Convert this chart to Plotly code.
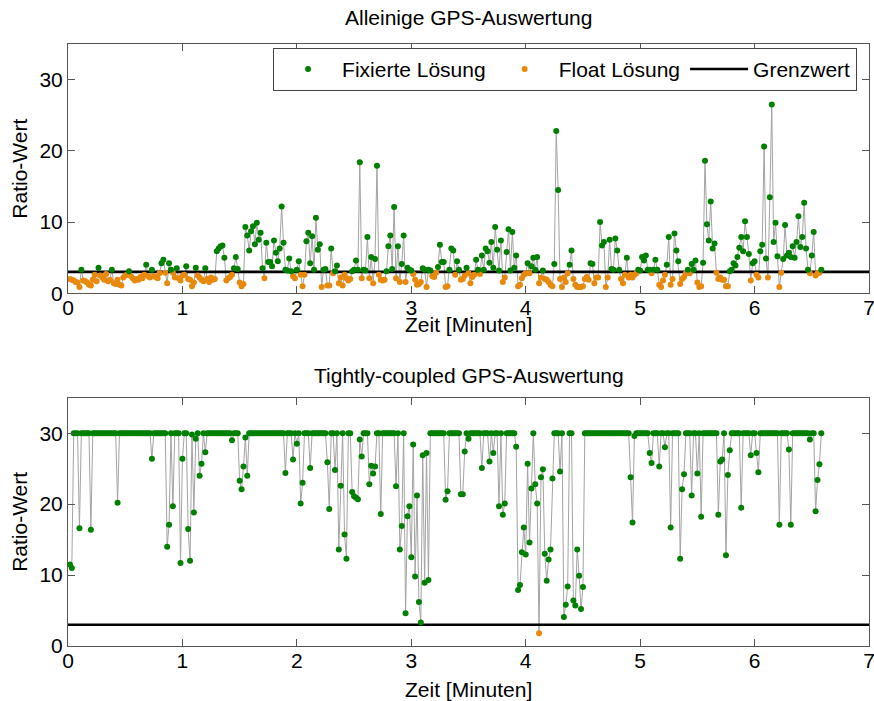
import plotly.graph_objects as go
from plotly.subplots import make_subplots

# ---------------- data ----------------
# Ratio values, one sample per second (t = 1 ... 395 s)
ratio_gps_only = [
    2.0, 1.9, 1.8, 1.6, 1.5, 0.9, 3.3, 1.8, 1.7, 1.5, 1.2, 1.1, 1.9, 2.6, 1.7, 3.6, 2.5, 2.2, 1.9, 2.7,
    1.7, 1.9, 3.3, 1.4, 1.3, 1.9, 1.2, 1.1, 2.2, 2.5, 2.6, 3.1, 2.4, 2.1, 1.8, 2.0, 1.9, 2.3, 2.1, 2.6,
    4.0, 2.4, 2.2, 3.3, 2.4, 2.3, 2.1, 2.8, 4.2, 4.7, 2.9, 1.4, 4.2, 3.3, 2.9, 2.2, 3.5, 2.1, 1.8, 2.5,
    2.6, 3.8, 2.0, 1.9, 1.0, 1.5, 3.6, 2.5, 2.2, 1.9, 1.7, 3.5, 2.0, 1.6, 2.2, 1.9, 2.0, 5.9, 6.3, 6.6,
    6.7, 5.0, 1.8, 2.1, 2.3, 2.6, 3.5, 5.1, 3.4, 1.5, 1.0, 1.3, 9.3, 8.1, 6.0, 8.7, 9.4, 6.9, 9.9, 7.5,
    8.5, 3.5, 2.1, 7.1, 4.4, 4.4, 3.8, 7.4, 5.7, 4.5, 6.3, 12.2, 7.1, 3.3, 3.2, 4.9, 3.1, 2.4, 2.1, 3.3,
    4.5, 2.6, 1.0, 2.6, 7.3, 8.5, 4.2, 8.0, 3.3, 10.6, 6.1, 6.9, 0.9, 3.3, 3.4, 1.1, 1.1, 6.3, 2.8, 3.1,
    3.9, 1.4, 2.2, 1.1, 2.6, 2.1, 1.8, 2.0, 3.1, 3.3, 4.6, 3.3, 18.4, 2.1, 3.3, 3.2, 7.9, 2.1, 5.1, 1.4,
    4.8, 17.9, 2.6, 1.9, 1.8, 1.9, 3.1, 6.6, 8.1, 3.4, 12.1, 2.1, 6.6, 1.6, 4.1, 8.1, 1.6, 3.6, 3.3, 3.2,
    2.7, 1.9, 1.2, 1.3, 1.6, 3.5, 3.3, 0.9, 3.3, 3.2, 2.4, 2.3, 2.9, 3.7, 6.8, 4.4, 4.4, 0.9, 1.0, 3.3,
    6.3, 6.0, 2.6, 4.5, 3.3, 1.9, 2.0, 2.5, 3.6, 2.8, 1.4, 2.3, 2.6, 4.7, 3.3, 2.7, 5.3, 3.3, 6.3, 5.9,
    4.3, 7.2, 3.6, 9.3, 6.1, 3.2, 7.4, 1.6, 2.2, 5.8, 9.0, 3.2, 8.6, 3.6, 5.3, 1.0, 1.2, 2.1, 2.6, 2.8,
    4.2, 2.8, 3.8, 5.0, 3.3, 5.1, 1.4, 2.2, 3.2, 2.0, 1.9, 1.6, 1.2, 1.0, 4.1, 22.8, 14.5, 2.0, 0.9, 2.2,
    1.6, 2.8, 4.0, 6.0, 2.0, 1.2, 0.9, 0.9, 0.9, 1.0, 2.0, 2.3, 1.9, 4.2, 4.1, 1.4, 2.2, 2.2, 10.0, 6.7,
    7.2, 0.9, 2.2, 7.5, 3.4, 3.3, 7.7, 6.0, 3.3, 2.0, 1.4, 2.6, 5.0, 2.2, 2.6, 2.2, 2.6, 2.8, 3.3, 3.2,
    5.1, 4.6, 5.3, 3.3, 3.3, 2.8, 3.3, 4.7, 3.3, 1.2, 0.9, 1.8, 2.6, 4.0, 7.9, 1.2, 2.0, 8.4, 6.0, 4.5,
    1.3, 2.0, 2.3, 2.8, 3.3, 2.8, 4.1, 3.3, 4.6, 1.5, 0.9, 1.0, 4.3, 18.6, 9.7, 7.4, 12.9, 6.3, 7.0, 2.9,
    2.0, 2.2, 1.9, 1.9, 1.0, 1.0, 3.1, 3.3, 4.2, 3.9, 5.1, 6.4, 7.9, 5.9, 10.1, 7.9, 5.5, 1.8, 4.2, 4.5,
    2.6, 2.2, 5.9, 6.8, 20.6, 4.9, 2.2, 13.5, 26.5, 7.2, 9.9, 5.2, 0.9, 2.9, 4.8, 9.6, 5.3, 5.7, 5.1, 6.6,
    5.0, 7.2, 10.8, 6.5, 7.9, 12.7, 6.3, 3.3, 2.8, 5.3, 8.6, 2.5, 2.8, 2.9, 3.3,
]

ratio_tightly_coupled = [
    11.5, 11.0, 30, 30, 30, 16.6, 30, 30, 30, 30, 30, 16.4, 30, 30, 30, 30, 30, 30, 30, 30,
    30, 30, 30, 30, 30, 20.2, 30, 30, 30, 30, 30, 30, 30, 30, 30, 30, 30, 30, 30, 30,
    30, 30, 30, 26.4, 30, 30, 30, 30, 30, 30, 30, 14.0, 17.1, 30, 19.7, 30, 30, 30, 11.7, 26.4,
    30, 30, 16.5, 12.0, 29.8, 18.8, 29.2, 30, 24.0, 25.7, 30, 27.3, 30, 30, 30, 30, 30, 30, 30, 30,
    30, 30, 30, 30, 30, 29.0, 30, 30, 30, 23.3, 22.1, 25.3, 29.4, 24.0, 30, 30, 30, 30, 30, 30,
    30, 30, 30, 30, 30, 30, 30, 30, 30, 30, 30, 30, 30, 24.4, 30, 30, 30, 26.3, 30, 28.5,
    30, 20.1, 23.0, 30, 30, 30, 25.1, 30, 30, 30, 30, 30, 30, 30, 30, 25.9, 19.3, 30, 30, 24.8,
    30, 13.6, 22.6, 30, 15.7, 12.3, 30, 30, 21.7, 21.1, 20.9, 20.7, 29.1, 26.7, 30, 30, 30, 22.8, 25.4, 24.3,
    25.3, 30, 30, 18.6, 30, 30, 30, 30, 30, 30, 30, 22.5, 30, 13.6, 16.9, 30, 4.6, 18.3, 19.7, 12.5,
    28.4, 9.8, 21.2, 6.2, 3.3, 26.9, 8.9, 27.2, 9.3, 30, 30, 30, 30, 30, 30, 30, 30, 20.6, 21.8, 30,
    30, 30, 30, 30, 30, 21.4, 21.4, 27.4, 30, 29.2, 30, 30, 30, 30, 30, 30, 25.1, 30, 30, 30,
    26.0, 30, 27.2, 30, 30, 19.7, 30, 18.5, 20.1, 30, 30, 30, 30, 30, 28.1, 7.9, 8.6, 13.2, 16.7, 12.9,
    25.7, 14.6, 22.2, 30, 22.8, 20.1, 1.8, 23.8, 24.9, 13.0, 9.2, 12.2, 13.6, 23.6, 30, 30, 30, 24.6, 30, 4.1,
    5.8, 8.4, 30, 30, 6.4, 5.7, 13.6, 9.9, 5.2, 8.3, 30, 30, 30, 30, 30, 30, 30, 30, 30, 30,
    30, 30, 30, 30, 30, 30, 30, 30, 30, 30, 30, 30, 30, 30, 23.8, 17.4, 29.6, 30, 30, 30,
    30, 30, 30, 30, 27.2, 25.8, 30, 30, 30, 25.3, 30, 30, 28.0, 30, 30, 16.7, 30, 30, 30, 30,
    12.3, 22.1, 24.2, 30, 30, 30, 21.2, 30, 30, 24.3, 30, 18.2, 30, 30, 30, 30, 30, 30, 30, 30,
    18.5, 26.0, 26.3, 30, 12.8, 24.1, 27.6, 30, 30, 30, 30, 30, 19.5, 30, 30, 30, 30, 26.9, 30, 30,
    27.2, 24.5, 30, 30, 30, 30, 30, 30, 30, 30, 30, 30, 17.1, 30, 30, 30, 30, 27.7, 17.1, 30,
    30, 30, 30, 30, 30, 30, 30, 30, 29.1, 30, 30, 19.0, 23.4, 25.6, 30,
]

sample_seconds = list(range(1, len(ratio_gps_only) + 1))
time_minutes = [s / 60 for s in sample_seconds]

threshold = 3
x_range = [0, 7]
y_range = [0, 35]
x_ticks = [0, 1, 2, 3, 4, 5, 6, 7]
y_ticks = [0, 10, 20, 30]

title_top = "Alleinige GPS-Auswertung"
title_bottom = "Tightly-coupled GPS-Auswertung"
x_title = "Zeit [Minuten]"
y_title = "Ratio-Wert"
name_fixed = "Fixierte Lösung"
name_float = "Float Lösung"
name_limit = "Grenzwert"

# ---------------- styling ----------------
GREEN = "#008000"
ORANGE = "#E8890C"
GRAY = "#A3A3A3"
FONT = "Liberation Sans, Arial, Helvetica, sans-serif"
AXIS_COL = "#555555"
FS = 21

fig = make_subplots(rows=2, cols=1)


def add_panel(values, row, show_legend):
    fx = [t for t, v in zip(time_minutes, values) if v >= threshold]
    fy = [v for v in values if v >= threshold]
    ox = [t for t, v in zip(time_minutes, values) if v < threshold]
    oy = [v for v in values if v < threshold]
    fig.add_trace(go.Scatter(x=time_minutes, y=values, mode="lines",
                             line=dict(color=GRAY, width=1), showlegend=False,
                             hoverinfo="skip"), row=row, col=1)
    fig.add_trace(go.Scatter(x=x_range, y=[threshold, threshold], mode="lines",
                             line=dict(color="black", width=2.6), name=name_limit,
                             legendrank=3, showlegend=show_legend), row=row, col=1)
    fig.add_trace(go.Scatter(x=ox, y=oy, mode="markers", name=name_float,
                             marker=dict(color=ORANGE, size=6), legendrank=2,
                             showlegend=show_legend), row=row, col=1)
    fig.add_trace(go.Scatter(x=fx, y=fy, mode="markers", name=name_fixed,
                             marker=dict(color=GREEN, size=6), legendrank=1,
                             showlegend=show_legend), row=row, col=1)


add_panel(ratio_gps_only, 1, True)
add_panel(ratio_tightly_coupled, 2, False)

axis_common = dict(showline=True, linecolor=AXIS_COL, linewidth=1, mirror="ticks",
                   ticks="inside", ticklen=7, tickcolor=AXIS_COL, showgrid=False,
                   zeroline=False, automargin=False, ticklabeloverflow="allow",
                   tickfont=dict(size=FS, color="black", family=FONT))

fig.update_xaxes(range=x_range, tickvals=x_ticks, **axis_common)
fig.update_yaxes(range=y_range, tickvals=y_ticks, **axis_common)
try:
    fig.update_xaxes(ticklabelstandoff=-4)
except Exception:
    pass

fig.update_layout(
    xaxis=dict(domain=[0, 1], anchor="y"),
    xaxis2=dict(domain=[0, 1], anchor="y2"),
    yaxis=dict(domain=[0.5859, 1.0]),
    yaxis2=dict(domain=[0.0, 0.4125]),
)

annots = [
    dict(text=title_top, x=0.5, y=1.0432),
    dict(text=title_bottom, x=0.5, y=0.450),
    dict(text=x_title, x=0.5, y=0.534),
    dict(text=x_title, x=0.5, y=-0.0725),
    dict(text=y_title, x=-0.0599, y=(0.5859 + 1) / 2, textangle=-90),
    dict(text=y_title, x=-0.0599, y=0.4125 / 2, textangle=-90),
]
for a in annots:
    fig.add_annotation(xref="paper", yref="paper", showarrow=False,
                       xanchor="center", yanchor="middle",
                       font=dict(size=FS, color="black", family=FONT), **a)

fig.update_layout(
    width=874, height=701,
    margin=dict(l=68, r=5, t=44, b=55, autoexpand=False),
    paper_bgcolor="white", plot_bgcolor="white",
    font=dict(family=FONT, size=FS, color="black"),
    showlegend=True,
    hovermode=False,
    legend=dict(orientation="h", x=0.256, y=0.9935, xanchor="left", yanchor="top",
                bgcolor="white", bordercolor="#444444", borderwidth=1,
                font=dict(size=21, family=FONT, color="black"),
                itemwidth=58, tracegroupgap=0),
)

fig.write_html("out.html",
               config={"displayModeBar": False},
               post_script="document.body.style.margin='0';document.body.style.padding='0';")
